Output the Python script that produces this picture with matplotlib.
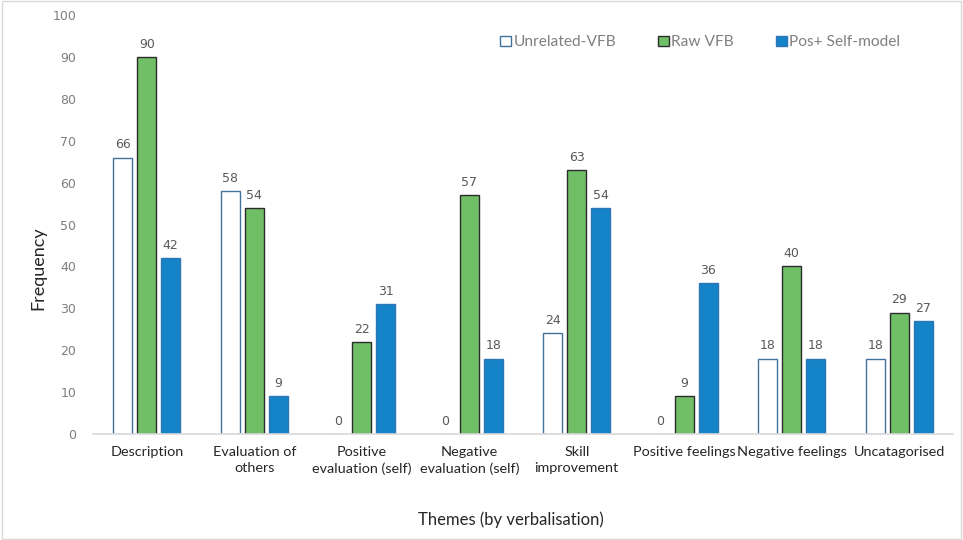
import numpy as np
import matplotlib.pyplot as plt
from matplotlib.patches import Rectangle

# Datos
temas = ['Description', 'Evaluation of\nothers', 'Positive\nevaluation (self)',
         'Negative\nevaluation (self)', 'Skill\nimprovement', 'Positive feelings',
         'Negative feelings', 'Uncatagorised']
unrelated = [66, 58, 0, 0, 24, 0, 18, 18]
raw_vfb = [90, 54, 22, 57, 63, 9, 40, 29]
pos_self = [42, 9, 31, 18, 54, 36, 18, 27]

plt.rcParams['font.family'] = ['Lato', 'DejaVu Sans']

fig = plt.figure(figsize=(9.63, 5.4), dpi=100)
ax = fig.add_axes([0.0966, 0.1963, 0.893, 0.7757])

x = np.arange(len(temas))
ancho = 0.177
paso = 0.223

b1 = ax.bar(x - paso, unrelated, ancho, color='white', edgecolor='#41719C',
            linewidth=1.0, label='Unrelated-VFB')
b2 = ax.bar(x, raw_vfb, ancho, color='#70BF66', edgecolor='#2B2B2B',
            linewidth=1.0, label='Raw VFB')
b3 = ax.bar(x + paso, pos_self, ancho, color='#1583C8', edgecolor='#2E75B6',
            linewidth=1.0, label='Pos+ Self-model')

for barras in (b1, b2, b3):
    for b in barras:
        h = b.get_height()
        ax.text(b.get_x() + b.get_width() / 2, h + 1.5, f'{int(h)}',
                ha='center', va='bottom', fontsize=9, color='#595959',
                family=['DejaVu Sans'])

ax.set_xlim(-0.5, len(temas) - 0.5)
ax.set_ylim(0, 100)
ax.set_yticks(np.arange(0, 101, 10))
ax.tick_params(axis='y', length=0, labelsize=9, labelcolor='#7F7F7F', pad=12)
ax.tick_params(axis='x', length=0, labelsize=10.4, labelcolor='#262626', pad=9)
ax.set_xticks(x)
ax.set_xticklabels(temas, linespacing=1.35)
for lab in ax.get_yticklabels():
    lab.set_family('DejaVu Sans')

for lado in ('top', 'right', 'left'):
    ax.spines[lado].set_visible(False)
ax.spines['bottom'].set_color('#D9D9D9')
ax.spines['bottom'].set_linewidth(1.2)

fig.text(0.040, 0.503, 'Frequency', rotation=90, ha='center', va='center',
         fontsize=13, color='#262626')
fig.text(0.531, 0.037, 'Themes (by verbalisation)', ha='center', va='center',
         fontsize=12, color='#262626')

leg = ax.legend(loc='upper right', bbox_to_anchor=(0.955, 0.985), ncol=3,
                frameon=False, fontsize=11.2, handlelength=0.7, handleheight=0.7,
                handletextpad=0.15, columnspacing=2.7, labelcolor='#808080')

fig.patches.append(Rectangle((0.002, 0.002), 0.996, 0.996, transform=fig.transFigure,
                             fill=False, edgecolor='#D9D9D9', linewidth=1.0))

fig.savefig('out.png', dpi=100)
